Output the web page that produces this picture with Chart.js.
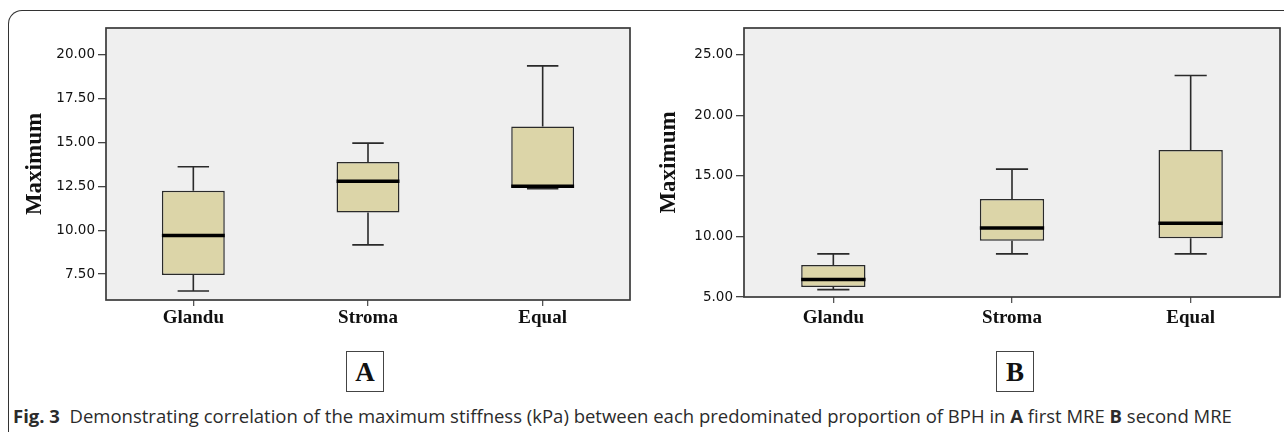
<!DOCTYPE html>
<html>
<head>
<meta charset="utf-8">
<script src="https://cdn.jsdelivr.net/npm/chart.js@4.4.1/dist/chart.umd.min.js"></script>
<style>
    html, body { margin: 0; padding: 0; background: #fff; }
    body { width: 1284px; height: 432px; position: relative; overflow: hidden; }
    .frame {
        position: absolute; left: 8px; top: 10px; width: 1320px; height: 460px;
        border-top: 1.5px solid #333; border-left: 1.5px solid #333;
        border-top-left-radius: 14px;
    }
    canvas { position: absolute; top: 0; }
    #chartA { left: 0; }
    #chartB { left: 640px; }
    .panel {
        position: absolute; top: 351px; width: 38px; height: 41px;
        border: 1.3px solid #444; box-sizing: border-box;
        font: bold 27px 'Liberation Serif', serif; color: #111;
        text-align: center; line-height: 40px;
    }
    .caption {
        position: absolute; left: 13px; top: 403px; white-space: nowrap;
        font: 400 18.5px 'Open Sans', sans-serif; color: #2b2b2b;
    }
</style>
</head>
<body>
<div class="frame"></div>
<canvas id="chartA" width="640" height="340"></canvas>
<canvas id="chartB" width="644" height="340"></canvas>
<div class="panel" style="left:346px">A</div>
<div class="panel" style="left:996px">B</div>
<div class="caption"><b>Fig. 3</b>&nbsp; Demonstrating correlation of the maximum stiffness (kPa) between each predominated proportion of BPH in <b>A</b> first MRE <b>B</b> second MRE</div>
<script>
(function () {
    var categories = ['Glandu', 'Stroma', 'Equal'];

    // panel A: first MRE
    var aMin = [6.53, 9.16, 12.36];
    var aQ1 = [7.44, 11.00, 12.42];
    var aMedian = [9.69, 12.79, 12.50];
    var aQ3 = [12.24, 13.88, 15.90];
    var aMax = [13.61, 14.96, 19.36];
    var aTicks = [7.5, 10, 12.5, 15, 17.5, 20];

    // panel B: second MRE
    var bMin = [5.61, 8.56, 8.56];
    var bQ1 = [5.83, 9.64, 9.84];
    var bMedian = [6.44, 10.69, 11.08];
    var bQ3 = [7.65, 13.09, 17.13];
    var bMax = [8.56, 15.55, 23.28];
    var bTicks = [5, 10, 15, 20, 25];

    var boxParts = {
        id: 'boxParts',
        beforeDatasetsDraw: function (chart) {
            var a = chart.chartArea, ctx = chart.ctx;
            ctx.save();
            ctx.fillStyle = '#efefef';
            ctx.fillRect(a.left, a.top, a.right - a.left, a.bottom - a.top);
            ctx.restore();
        },
        afterDatasetsDraw: function (chart) {
            var ds = chart.data.datasets[0];
            var bars = chart.getDatasetMeta(0).data;
            var y = chart.scales.y;
            var ctx = chart.ctx;
            ctx.save();
            bars.forEach(function (bar, i) {
                var x = bar.x, half = bar.width / 2, cap = bar.width / 4;
                var yMin = y.getPixelForValue(ds.min[i]);
                var yQ1 = y.getPixelForValue(ds.data[i][0]);
                var yQ3 = y.getPixelForValue(ds.data[i][1]);
                var yMax = y.getPixelForValue(ds.max[i]);
                var yMed = y.getPixelForValue(ds.median[i]);
                ctx.strokeStyle = '#2a2a2a';
                ctx.lineWidth = 1.6;
                ctx.beginPath();
                ctx.moveTo(x, yQ3); ctx.lineTo(x, yMax);
                ctx.moveTo(x - cap, yMax); ctx.lineTo(x + cap, yMax);
                ctx.moveTo(x, yQ1); ctx.lineTo(x, yMin);
                ctx.moveTo(x - cap, yMin); ctx.lineTo(x + cap, yMin);
                ctx.stroke();
                ctx.strokeStyle = '#000';
                ctx.lineWidth = 3.5;
                ctx.beginPath();
                ctx.moveTo(x - half, yMed); ctx.lineTo(x + half, yMed);
                ctx.stroke();
            });
            var a = chart.chartArea;
            ctx.strokeStyle = '#3a3a3a';
            ctx.lineWidth = 1.7;
            ctx.strokeRect(a.left, a.top, a.right - a.left, a.bottom - a.top);
            ctx.restore();
        }
    };

    function makeChart(id, min, q1, median, q3, max, ticks, range, dims) {
        var boxes = q1.map(function (v, i) { return [v, q3[i]]; });
        return new Chart(document.getElementById(id), {
            type: 'bar',
            data: {
                labels: categories,
                datasets: [{
                    data: boxes,
                    min: min,
                    median: median,
                    max: max,
                    backgroundColor: '#dcd5a8',
                    borderColor: '#2a2a2a',
                    borderWidth: 1.5,
                    borderSkipped: false,
                    barPercentage: 0.36,
                    categoryPercentage: 1
                }]
            },
            plugins: [boxParts],
            options: {
                responsive: false,
                animation: false,
                layout: { padding: { top: 28, right: dims.right, left: 0, bottom: 0 } },
                plugins: { legend: { display: false }, tooltip: { enabled: false } },
                scales: {
                    x: {
                        afterFit: function (s) { s.height = dims.xHeight; },
                        grid: { offset: false, drawOnChartArea: false, tickLength: 6, color: '#555', lineWidth: 1.3 },
                        border: { display: false },
                        ticks: {
                            padding: dims.xPad,
                            color: '#111',
                            font: { family: 'Liberation Serif', weight: 'bold', size: 19 }
                        }
                    },
                    y: {
                        min: range[0],
                        max: range[1],
                        afterFit: function (s) { s.width = dims.yWidth; },
                        afterBuildTicks: function (s) {
                            s.ticks = ticks.map(function (v) { return { value: v }; });
                        },
                        grid: { drawOnChartArea: false, tickLength: 8, color: '#444', lineWidth: 1.3 },
                        border: { display: false },
                        ticks: {
                            padding: 3,
                            color: '#111',
                            font: { family: 'DejaVu Sans', size: 13.5 },
                            callback: function (v) { return Number(v).toFixed(2); }
                        },
                        title: {
                            display: true,
                            text: 'Maximum',
                            color: '#111',
                            padding: { top: dims.titlePad, bottom: 0 },
                            font: { family: 'Liberation Serif', weight: 'bold', size: 23 }
                        }
                    }
                }
            }
        });
    }

    makeChart('chartA', aMin, aQ1, aMedian, aQ3, aMax, aTicks, [6.02, 21.52],
        { right: 10, xHeight: 40, yWidth: 106, xPad: 1, titlePad: 21 });
    makeChart('chartB', bMin, bQ1, bMedian, bQ3, bMax, bTicks, [5, 27.2],
        { right: 4, xHeight: 43, yWidth: 104, xPad: 4, titlePad: 15 });
})();
</script>
</body>
</html>
